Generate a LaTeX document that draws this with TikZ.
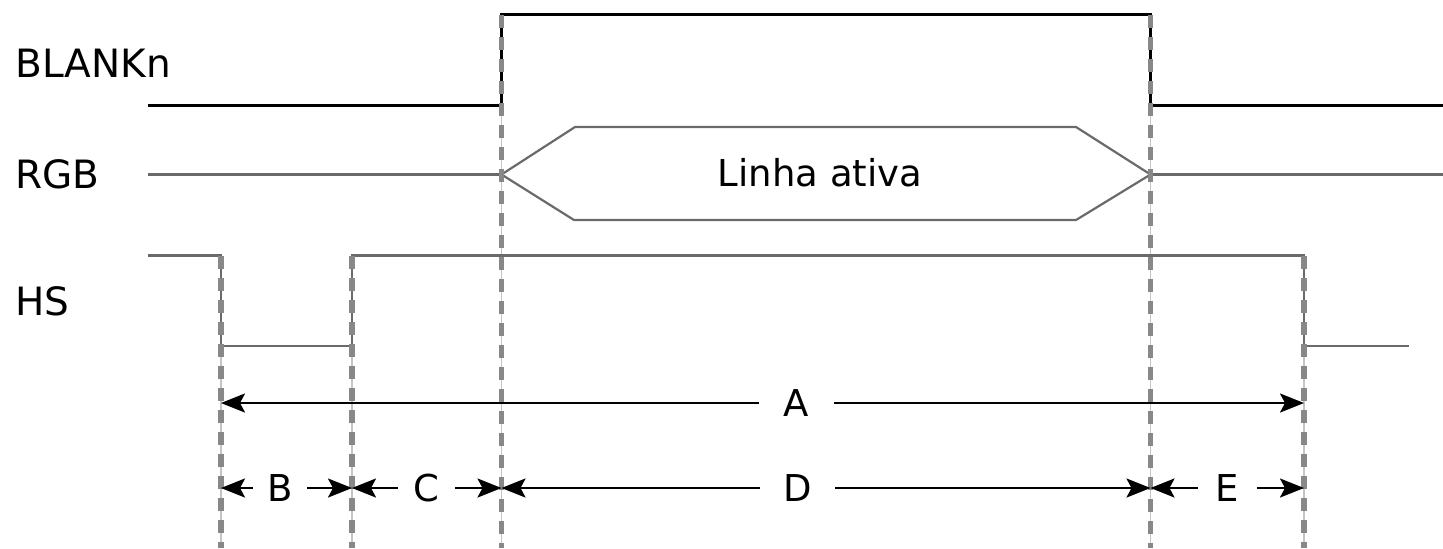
\documentclass[tikz,border=0pt]{standalone}
\usepackage{fontspec}
\setmainfont{DejaVu Sans}
\usetikzlibrary{arrows.meta}
\definecolor{sig}{HTML}{6A6A6A}
\definecolor{guide}{HTML}{888888}
\definecolor{guidethin}{HTML}{C4C4C4}
\begin{document}
\begin{tikzpicture}[x=0.5pt,y=-0.5pt,
  lbl/.style={font=\fontsize{19.5}{23}\selectfont, anchor=base west, inner sep=0},
  dimlbl/.style={font=\fontsize{18.5}{22}\selectfont, inner sep=0, minimum height=0pt},
  sigline/.style={draw=sig, line width=1.1pt},
  blank/.style={draw=black, line width=1.5pt},
  guidedash/.style={draw=guide, line width=2.8pt, dash pattern=on 6.5pt off 4.5pt},
  guidefine/.style={draw=guidethin, line width=0.6pt},
  dimarrow/.style={draw=black, line width=1.2pt, -{Stealth[length=12pt,width=9.5pt,inset=2.5pt]}},
]
\useasboundingbox (0,0) rectangle (1443,548);

% guide line end points
\coordinate (g1top) at (221,256);   \coordinate (g1bot) at (221,548);
\coordinate (g2top) at (352,256);   \coordinate (g2bot) at (352,548);
\coordinate (g3top) at (501.5,15);  \coordinate (g3bot) at (501.5,548);
\coordinate (g4top) at (1150.5,15); \coordinate (g4bot) at (1150.5,548);
\coordinate (g5top) at (1304,256);  \coordinate (g5bot) at (1304,548);

% thin guide lines
\foreach \g in {1,...,5} \draw[guidefine] (g\g top) -- (g\g bot);

% signal labels
\node[lbl] (lblank) at (15,77) {BLANKn};
\node[lbl] (lrgb) at (15,188) {RGB};
\node[lbl] (lhs) at (15,315) {HS};

% BLANKn
\draw[blank] (148,105) -- (501.5,105) -- (501.5,14) -- (1150.5,14) -- (1150.5,105) -- (1443,105);

% RGB
\draw[sigline] (148,174.5) -- (501.5,174.5);
\draw[sigline] (501.5,174.5) -- (575,127) -- (1076,127) -- (1150.5,174.5) -- (1076,220) -- (574,220) -- cycle;
\draw[sigline] (1150.5,174.5) -- (1443,174.5);
\node[font=\fontsize{18.5}{22}\selectfont, anchor=base, inner sep=0] (active) at (820,186) {Linha ativa};

% HS
\draw[sigline] (148,255.5) -- (221,255.5) -- (221,346) -- (352,346) -- (352,255.5) -- (1304,255.5) -- (1304,346) -- (1409,346);

% dashed guides
\foreach \g in {1,...,5} \draw[guidedash] (g\g top) -- (g\g bot);

% dimension labels
\node[dimlbl, minimum width=37.5pt] (A) at (796.5,403) {A};
\node[dimlbl, minimum width=27pt] (B) at (280,488) {B};
\node[dimlbl, minimum width=28.5pt] (C) at (426.5,488) {C};
\node[dimlbl, minimum width=37.5pt] (D) at (797.5,488) {D};
\node[dimlbl, minimum width=29.5pt] (E) at (1227.5,488) {E};

% dimension arrows
\draw[dimarrow] (A.west) -- (A.west -| g1bot);
\draw[dimarrow] (A.east) -- (A.east -| g5bot);
\draw[dimarrow] (B.west) -- (B.west -| g1bot);
\draw[dimarrow] (B.east) -- (B.east -| g2bot);
\draw[dimarrow] (C.west) -- (C.west -| g2bot);
\draw[dimarrow] (C.east) -- (C.east -| g3bot);
\draw[dimarrow] (D.west) -- (D.west -| g3bot);
\draw[dimarrow] (D.east) -- (D.east -| g4bot);
\draw[dimarrow] (E.west) -- (E.west -| g4bot);
\draw[dimarrow] (E.east) -- (E.east -| g5bot);
\end{tikzpicture}
\end{document}
